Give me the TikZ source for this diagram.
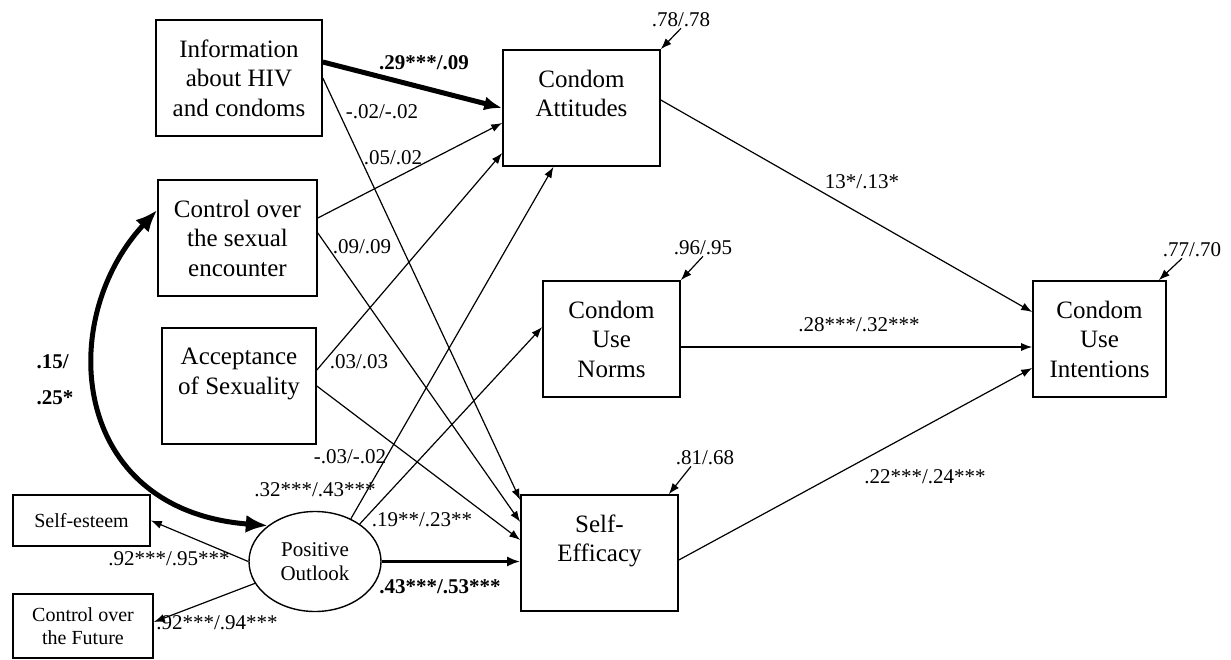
\documentclass[tikz,border=0pt]{standalone}
\usepackage{fontspec}
\setmainfont{Liberation Serif}
\usetikzlibrary{shapes.geometric, arrows.meta, positioning}

\begin{document}
\begin{tikzpicture}[x=1pt, y=-1pt,
    box/.style={rectangle, draw, line width=1.6pt, minimum height=116pt, inner sep=0pt, align=center, font=\fontsize{25}{29.5}\selectfont},
    smallbox/.style={rectangle, draw, line width=1.6pt, inner sep=0pt, align=center, font=\fontsize{20}{23}\selectfont},
    latent/.style={ellipse, draw, line width=1.4pt, minimum width=132pt, minimum height=100pt, inner sep=0pt, align=center, font=\fontsize{21}{24}\selectfont},
    coef/.style={inner sep=1pt, font=\fontsize{21}{25}\selectfont},
    arrow/.style={-{Latex[length=11pt, width=8pt]}, line width=1.2pt},
    midarrow/.style={-{Latex[length=13pt, width=10pt]}, line width=2.4pt},
    bigarrow/.style={-{Latex[length=18pt, width=14pt]}, line width=5pt},
    bigboth/.style={{Latex[length=22pt, width=18pt]}-{Latex[length=22pt, width=18pt]}, line width=5pt}]

    \useasboundingbox (0,0) rectangle (1231,660);

    % Exogenous predictors (left column)
    \node[box, minimum width=166pt] (info) at (239,78) {Information\\about HIV\\and condoms};
    \node[box, minimum width=159pt] (ctrl) at (237.5,238) {Control over\\the sexual\\encounter};
    \node[box, minimum width=154pt] (acc) at (239,386) {Acceptance\\of Sexuality\\~};

    % Latent factor and its indicators
    \node[latent] (po) at (315,561.5) {Positive\\Outlook};
    \node[smallbox, minimum width=137pt, minimum height=51pt] (est) at (81.5,520.5) {Self-esteem};
    \node[smallbox, minimum width=140pt, minimum height=64pt] (fut) at (83,626) {Control over\\the Future};

    % Mediators
    \node[box, minimum width=157pt] (att) at (581.5,108) {Condom\\Attitudes\\~};
    \node[box, minimum width=137pt] (nrm) at (611.5,339) {Condom\\Use\\Norms};
    \node[box, minimum width=157pt] (se) at (599.5,553) {Self-\\Efficacy\\~};

    % Outcome
    \node[box, minimum width=133pt] (int) at (1099.5,339) {Condom\\Use\\Intentions};

    % Residual variances
    \node[coef] (r-att) at (681,20) {.78/.78};
    \node[coef] (r-nrm) at (703,248) {.96/.95};
    \node[coef] (r-se) at (705,458) {.81/.68};
    \node[coef] (r-int) at (1192,250) {.77/.70};
    \draw[arrow] (r-att.south) -- (att.north east);
    \draw[arrow] (r-nrm.south) -- (nrm.north east);
    \draw[arrow] ([xshift=-14pt]r-se.south) -- ([xshift=-10pt]se.north east);
    \draw[arrow] ([xshift=-10pt]r-int.south) -- ([xshift=-8pt]int.north east);

    % Paths into attitudes and self-efficacy
    \draw[bigarrow] ([yshift=16pt]info.east) -- (att.west);
    \draw[arrow] (info.east) -- ([yshift=53pt]se.west);
    \draw[arrow] ([yshift=20pt]ctrl.east) -- ([yshift=-15pt]att.west);
    \draw[arrow] ([yshift=5pt]ctrl.east) -- ([yshift=31pt]se.west);
    \draw[arrow] ([yshift=16pt]acc.east) -- ([yshift=-45pt]att.west);
    \draw[arrow] (acc.east) -- ([yshift=13pt]se.west);
    \draw[arrow] (po.50) -- ([xshift=-28pt]att.south);
    \draw[arrow] (po.40) -- ([yshift=12pt]nrm.west);
    \draw[midarrow] (po.east) -- (po.east -| se.west);

    % Measurement paths
    \draw[arrow] (po.west) -- (est.east);
    \draw[arrow] (po.200) -- ([yshift=4pt]fut.east);

    % Paths into intentions
    \draw[arrow] ([yshift=8pt]att.east) -- ([yshift=27pt]int.west);
    \draw[arrow] ([yshift=-8pt]nrm.east) -- ([yshift=-8pt]int.west);
    \draw[arrow] ([yshift=-7pt]se.east) -- ([yshift=-29pt]int.west);

    % Correlation
    \draw[bigboth] ([yshift=28pt]ctrl.west) .. controls (55,320) and (70,510) .. (po.north west);

    % Coefficients
    \node[coef] (c-ia) at (424,63) {\textbf{.29***/.09}};
    \node[coef] (c-is) at (382,112) {-.02/-.02};
    \node[coef] (c-ca) at (393,158) {.05/.02};
    \node[coef] (c-cs) at (362,247) {.09/.09};
    \node[coef] (c-aa) at (359,362) {.03/.03};
    \node[coef] (c-as) at (350,457) {-.03/-.02};
    \node[coef] (c-pa) at (315,490) {.32***/.43***};
    \node[coef] (c-pn) at (422,520) {.19**/.23**};
    \node[coef] (c-ps) at (440,587) {\textbf{.43***/.53***}};
    \node[coef] (c-pe) at (169,559) {.92***/.95***};
    \node[coef] (c-pf) at (217,623) {.92***/.94***};
    \node[coef] (c-ai) at (862,182) {13*/.13*};
    \node[coef] (c-ni) at (859,325) {.28***/.32***};
    \node[coef] (c-si) at (925,477) {.22***/.24***};
    \node[coef, align=left, font=\fontsize{21}{36}\selectfont\bfseries] (c-cp) at (55,380) {.15/\\.25*};
\end{tikzpicture}
\end{document}
